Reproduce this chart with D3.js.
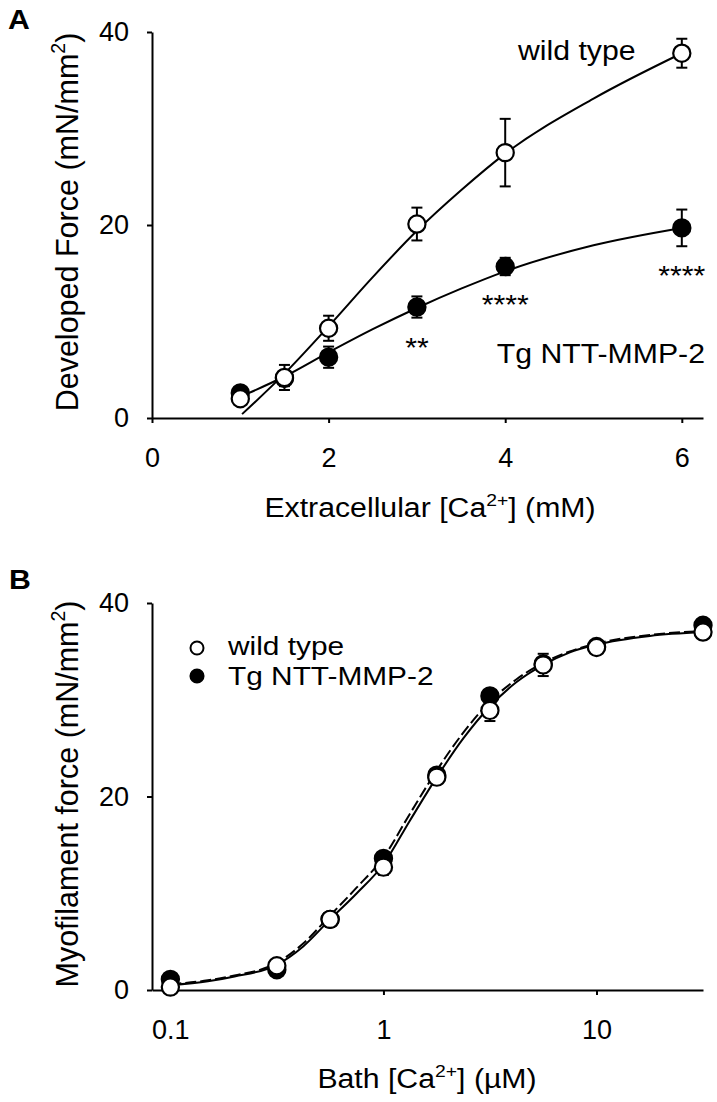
<!DOCTYPE html>
<html>
<head>
<meta charset="utf-8">
<script src="https://cdn.jsdelivr.net/npm/d3@7"></script>
<style>
  html, body { margin: 0; padding: 0; background: #fff; }
  svg { display: block; }
  text { font-family: "Liberation Sans", Arial, Helvetica, sans-serif; fill: #000; }
</style>
</head>
<body>
<svg id="chart" width="717" height="1102"></svg>
<script>
// ---------- Panel A data ----------
const aX = [1, 1.5, 2, 3, 4, 6];
const aWT = [2.0, 4.2, 9.3, 20.1, 27.5, 37.8];
const aWTerr = [0.5, 1.3, 1.3, 1.7, 3.5, 1.5];
const aTg = [2.6, 4.1, 6.3, 11.5, 15.7, 19.7];
const aTgErr = [0.5, 0.8, 1.1, 1.1, 0.9, 1.9];
const aSig = ["", "", "", "**", "****", "****"];
const aWTfitX = [1.02, 1.5, 2, 2.5, 3, 3.5, 4, 5, 6];
const aWTfitY = [0.4, 4.6, 9.5, 14.6, 19.4, 23.6, 27.4, 33.1, 37.8];
const aTgFitX = [1.1, 1.5, 2, 2.5, 3, 3.5, 4, 5, 6];
const aTgFitY = [2.6, 4.3, 6.8, 9.2, 11.4, 13.4, 15.2, 17.9, 19.7];
const aXTicks = [0, 2, 4, 6];
const aYTicks = [0, 20, 40];

// ---------- Panel B data ----------
const bX = [0.1, 0.316, 0.562, 1, 1.78, 3.16, 5.62, 10, 31.6];
const bWT = [0.3, 2.5, 7.3, 12.7, 22.0, 28.9, 33.6, 35.4, 37.0];
const bWTerr = [0.3, 0.5, 0.5, 0.8, 0.7, 1.1, 1.15, 0.6, 0.5];
const bTg = [1.1, 2.1, 7.3, 13.6, 22.2, 30.4, 33.7, 35.5, 37.7];
const bTgErr = [0.4, 0.4, 0.4, 0.6, 0.5, 0.6, 0.6, 0.4, 0.5];
const bFitX = [0.1, 0.15, 0.2, 0.316, 0.42, 0.562, 0.75, 1, 1.33, 1.78, 2.37, 3.16, 4.2, 5.62, 7.5, 10, 17.8, 31.6];
const bWTfitY = [0.5, 0.9, 1.4, 2.6, 4.5, 7.3, 10.0, 13.0, 17.5, 22.0, 26.0, 29.3, 31.8, 33.6, 34.9, 35.7, 36.6, 37.0];
const bTgFitY = [0.6, 1.0, 1.5, 2.8, 4.8, 7.7, 10.6, 13.7, 18.2, 22.7, 26.6, 29.8, 32.1, 33.8, 35.0, 35.8, 36.7, 37.1];
const bXTicks = [0.1, 1, 10];
const bYTicks = [0, 20, 40];

const seriesNames = ["wild type", "Tg NTT-MMP-2"];

// ---------- helpers ----------
const svg = d3.select("#chart");
svg.append("rect").attr("width", 717).attr("height", 1102).attr("fill", "#fff");

function label(g, x, y, anchor, size, sx, parts, opts = {}) {
  const t = g.append("text")
    .attr("transform", `translate(${x},${y})${opts.rotate ? " rotate(" + opts.rotate + ")" : ""} scale(${sx},1)`)
    .attr("text-anchor", anchor)
    .attr("font-size", size)
    .attr("font-weight", opts.weight || "normal");
  let shifted = 0;
  parts.forEach(p => {
    const isSup = Array.isArray(p);
    const s = isSup ? p[0] : p;
    const ts = t.append("tspan").text(s);
    if (isSup) {
      ts.attr("font-size", size * 0.64).attr("dy", -size * 0.42);
      shifted = size * 0.42;
    } else if (shifted) {
      ts.attr("dy", shifted);
      shifted = 0;
    }
  });
  return t;
}

function styleAxis(g) {
  g.select(".domain").attr("stroke", "#000").attr("stroke-width", 2);
  g.selectAll(".tick line").attr("stroke", "#000").attr("stroke-width", 2);
  g.selectAll(".tick text").attr("font-size", 27).attr("font-family", "'Liberation Sans', Arial, sans-serif").attr("fill", "#000");
}

const lineStroke = 2;
const R = 8.6;
const cap = 5.5;

function drawSeries(g, xs, ys, errs, xScale, yScale, filled) {
  const data = xs.map((x, i) => ({ x, y: ys[i], e: errs[i] }));
  const eb = g.append("g");
  data.forEach(d => {
    const cx = xScale(d.x), y1 = yScale(d.y - d.e), y2 = yScale(d.y + d.e);
    eb.append("line").attr("x1", cx).attr("x2", cx).attr("y1", y1).attr("y2", y2)
      .attr("stroke", "#000").attr("stroke-width", 2);
    [y1, y2].forEach(yy => eb.append("line").attr("x1", cx - cap).attr("x2", cx + cap)
      .attr("y1", yy).attr("y2", yy).attr("stroke", "#000").attr("stroke-width", 2));
  });
  g.append("g").selectAll("circle").data(data).join("circle")
    .attr("cx", d => xScale(d.x)).attr("cy", d => yScale(d.y)).attr("r", R)
    .attr("fill", filled ? "#000" : "#fff").attr("stroke", "#000").attr("stroke-width", 2.2);
}

function drawFit(g, xs, ys, xScale, yScale, dash) {
  const pts = xs.map((x, i) => [xScale(x), yScale(ys[i])]);
  g.append("path").attr("d", d3.line().curve(d3.curveMonotoneX)(pts))
    .attr("fill", "none").attr("stroke", "#000").attr("stroke-width", lineStroke)
    .attr("stroke-dasharray", dash || null);
}

// ---------- Panel A ----------
const xA = d3.scaleLinear().domain([0, 6.24]).range([152, 703]);
const yA = d3.scaleLinear().domain([0, 40]).range([418, 32]);
const gA = svg.append("g");

gA.append("g").attr("transform", `translate(0,${yA(0)})`)
  .call(d3.axisBottom(xA).tickValues(aXTicks).tickFormat(d3.format("d")).tickSize(5).tickSizeOuter(0).tickPadding(25))
  .call(styleAxis);
gA.append("g").attr("transform", `translate(${xA(0)},0)`)
  .call(d3.axisLeft(yA).tickValues(aYTicks).tickSize(5).tickSizeOuter(0).tickPadding(18))
  .call(styleAxis);

drawFit(gA, aWTfitX, aWTfitY, xA, yA);
drawFit(gA, aTgFitX, aTgFitY, xA, yA);
drawSeries(gA, aX, aTg, aTgErr, xA, yA, true);
drawSeries(gA, aX, aWT, aWTerr, xA, yA, false);

aX.forEach((x, i) => {
  if (!aSig[i]) return;
  label(gA, xA(x), yA(aTg[i] - aTgErr[i]) + 24 + 15, "middle", 27, 1.12, [aSig[i]]);
});

label(gA, 518, 60, "start", 27, 1.12, [seriesNames[0]]);
label(gA, 705, 363, "end", 27, 1.12, [seriesNames[1]]);

label(svg, 8, 29, "start", 27, 1.12, ["A"], { weight: "bold" });
label(gA, 430, 517, "middle", 27, 1.12, ["Extracellular [Ca", ["2+"], "] (mM)"]);
label(gA, 78, 222, "middle", 30.5, 1, ["Developed Force (mN/mm", ["2"], ")"], { rotate: -90 });

// ---------- Panel B ----------
const xB = d3.scaleLog().domain([0.082, 31.6]).range([152, 703]);
const yB = d3.scaleLinear().domain([0, 40]).range([990, 603]);
const gB = svg.append("g");

gB.append("g").attr("transform", `translate(0,${yB(0)})`)
  .call(d3.axisBottom(xB).tickValues(bXTicks).tickFormat(d => d3.format("~g")(d)).tickSize(5).tickSizeOuter(0).tickPadding(25))
  .call(styleAxis);
gB.append("g").attr("transform", `translate(${xB.range()[0]},0)`)
  .call(d3.axisLeft(yB).tickValues(bYTicks).tickSize(5).tickSizeOuter(0).tickPadding(18))
  .call(styleAxis);

drawFit(gB, bFitX, bTgFitY, xB, yB, "11,4");
drawFit(gB, bFitX, bWTfitY, xB, yB);
drawSeries(gB, bX, bTg, bTgErr, xB, yB, true);
drawSeries(gB, bX, bWT, bWTerr, xB, yB, false);

// legend
const lg = gB.append("g");
lg.append("circle").attr("cx", 197).attr("cy", 648).attr("r", 6.5).attr("fill", "#fff").attr("stroke", "#000").attr("stroke-width", 2);
lg.append("circle").attr("cx", 197).attr("cy", 676).attr("r", 6.8).attr("fill", "#000").attr("stroke", "#000").attr("stroke-width", 1.5);
label(lg, 228, 655, "start", 25.5, 1.17, [seriesNames[0]]);
label(lg, 228, 685, "start", 25.5, 1.17, [seriesNames[1]]);

label(svg, 9, 589, "start", 27, 1.12, ["B"], { weight: "bold" });
label(gB, 427, 1088, "middle", 27, 1.12, ["Bath [Ca", ["2+"], "] (\u00B5M)"]);
label(gB, 78, 794, "middle", 30.5, 1, ["Myofilament force (mN/mm", ["2"], ")"], { rotate: -90 });
</script>
</body>
</html>
